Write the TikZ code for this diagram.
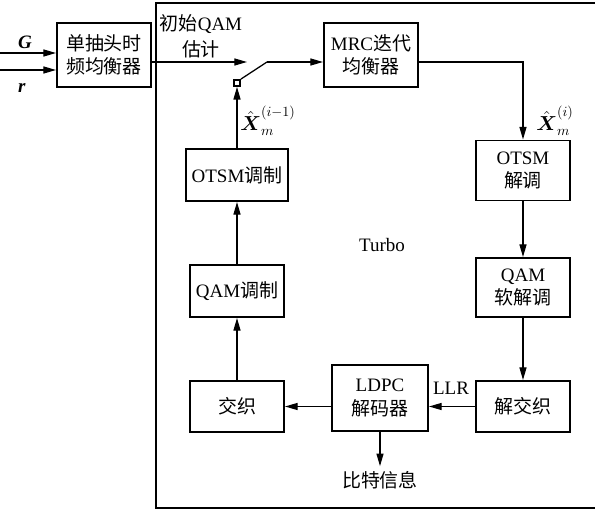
\documentclass[tikz,border=0pt]{standalone}
\usepackage{fontspec}
\usepackage{amsmath}
\usepackage{tikz}
\usetikzlibrary{arrows.meta, positioning}
\setmainfont{Liberation Serif}
\newfontfamily\cjk{Noto Sans CJK SC}
\newcommand{\zh}[1]{{\cjk #1}}

\begin{document}
\begin{tikzpicture}[
    x=0.025cm, y=-0.025cm,
    font=\fontsize{13.5}{16.5}\selectfont,
    box/.style={rectangle, draw=black, line width=1.4pt, minimum width=2.35cm, minimum height=1.3cm, align=center, inner sep=1pt},
    flow/.style={-{Triangle[length=9pt, width=5pt]}, line width=0.9pt},
    lbl/.style={font=\fontsize{14}{16}\selectfont, inner sep=0pt}
]
    \useasboundingbox (0,0) rectangle (595,512);

    % frame of the turbo receiver (right side runs off the page)
    \draw[line width=1.4pt] (595,3) -- (156,3) -- (156,508) -- (595,508);

    % All blocks
    \node[box, minimum height=1.6cm] (eq) at (104,55) {\zh{单抽头时}\\\zh{频均衡器}};
    \node[box, minimum height=1.6cm] (mrc) at (371,55) {MRC\zh{迭代}\\\zh{均衡器}};
    \node[box, minimum height=1.5cm] (otsmdem) at (523,170.5) {OTSM\\\zh{解调}};
    \node[box, minimum height=1.475cm] (qamdem) at (523,287.5) {QAM\\\zh{软解调}};
    \node[box, minimum height=1.275cm] (deintl) at (523,406.5) {\zh{解交织}};
    \node[box, minimum width=2.4cm, minimum height=1.65cm] (ldpc) at (380,398) {LDPC\\\zh{解码器}};
    \node[box, minimum height=1.275cm] (intl) at (237,406.5) {\zh{交织}};
    \node[box, minimum height=1.3cm] (qammod) at (237,291) {QAM\zh{调制}};
    \node[box, minimum width=2.55cm, minimum height=1.3cm] (otsmmod) at (237,175) {OTSM\zh{调制}};

    % Switch
    \node[draw, line width=1pt, minimum size=0.16cm, inner sep=0pt] (sw) at (237,83) {};
    \coordinate (swin) at (247,62);
    \coordinate (swtip) at (267,62);
    \coordinate (gin) at (0,53);
    \coordinate (rin) at (0,70);

    % Labels
    \node (glab) at (25,42) {\textbf{\textit{G}}};
    \node (rlab) at (22,88) {\textbf{\textit{r}}};
    \node[align=center] (init) at (201,36) {\zh{初始}QAM\\[2pt]\zh{估计}};
    \node[lbl] (xprev) at (268,121) {${\hat{\boldsymbol{X}}}_m^{(i-1)}$};
    \node[lbl] (xcur) at (555,121) {${\hat{\boldsymbol{X}}}_m^{(i)}$};
    \node (turbo) at (382,245) {Turbo};
    \node (llr) at (451,388) {LLR};
    \node (bits) at (380,480) {\zh{比特信息}};

    % Arrows
    \draw[flow] (gin) -- (gin -| eq.west);
    \draw[flow] (rin) -- (rin -| eq.west);
    \draw[flow] (eq.east |- swin) -- (swin);
    \draw[line width=0.9pt] (sw.north east) -- (swtip);
    \draw[flow] (swtip) -- (swtip -| mrc.west);
    \draw[flow] (swtip -| mrc.east) -| (otsmdem.north);
    \draw[flow] (otsmdem) -- (qamdem);
    \draw[flow] (qamdem) -- (deintl);
    \draw[flow] (deintl.west) -- (deintl.west -| ldpc.east);
    \draw[flow] (intl.east -| ldpc.west) -- (intl.east);
    \draw[flow] (ldpc) -- (bits);
    \draw[flow] (intl) -- (qammod);
    \draw[flow] (qammod) -- (otsmmod);
    \draw[flow] (otsmmod) -- (sw);
\end{tikzpicture}
\end{document}
